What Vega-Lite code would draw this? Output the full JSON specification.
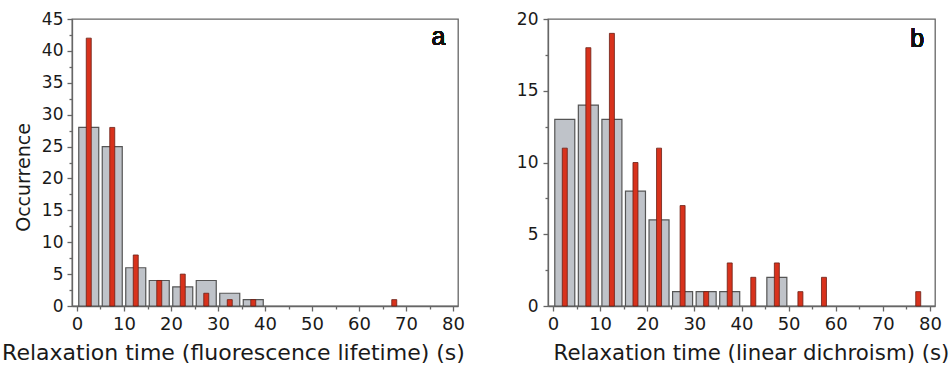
{
  "$schema": "https://vega.github.io/schema/vega-lite/v6.json",
  "background": "white",
  "padding": {"left": 0, "top": 9, "right": 0, "bottom": 0},
  "config": {
    "font": "DejaVu Sans",
    "view": {"stroke": "#666", "strokeWidth": 1.3},
    "axis": {
      "domainColor": "#666", "domainWidth": 1.3, "tickColor": "#666", "tickWidth": 1.3,
      "labelColor": "#1a1a1a", "titleColor": "#1a1a1a", "grid": false,
      "titleFontWeight": "normal", "labelFont": "DejaVu Sans", "titleFont": "DejaVu Sans"
    },
    "concat": {"spacing": 49}
  },
  "datasets": {
    "a": [
      {"mid": 2.5, "count": 28, "type": "gray"},
      {"mid": 7.5, "count": 25, "type": "gray"},
      {"mid": 12.5, "count": 6, "type": "gray"},
      {"mid": 17.5, "count": 4, "type": "gray"},
      {"mid": 22.5, "count": 3, "type": "gray"},
      {"mid": 27.5, "count": 4, "type": "gray"},
      {"mid": 32.5, "count": 2, "type": "gray"},
      {"mid": 37.5, "count": 1, "type": "gray"},
      {"mid": 2.5, "count": 42, "type": "red"},
      {"mid": 7.5, "count": 28, "type": "red"},
      {"mid": 12.5, "count": 8, "type": "red"},
      {"mid": 17.5, "count": 4, "type": "red"},
      {"mid": 22.5, "count": 5, "type": "red"},
      {"mid": 27.5, "count": 2, "type": "red"},
      {"mid": 32.5, "count": 1, "type": "red"},
      {"mid": 37.5, "count": 1, "type": "red"},
      {"mid": 67.5, "count": 1, "type": "red"}
    ],
    "b": [
      {"mid": 2.5, "count": 13, "type": "gray"},
      {"mid": 7.5, "count": 14, "type": "gray"},
      {"mid": 12.5, "count": 13, "type": "gray"},
      {"mid": 17.5, "count": 8, "type": "gray"},
      {"mid": 22.5, "count": 6, "type": "gray"},
      {"mid": 27.5, "count": 1, "type": "gray"},
      {"mid": 32.5, "count": 1, "type": "gray"},
      {"mid": 37.5, "count": 1, "type": "gray"},
      {"mid": 47.5, "count": 2, "type": "gray"},
      {"mid": 2.5, "count": 11, "type": "red"},
      {"mid": 7.5, "count": 18, "type": "red"},
      {"mid": 12.5, "count": 19, "type": "red"},
      {"mid": 17.5, "count": 10, "type": "red"},
      {"mid": 22.5, "count": 11, "type": "red"},
      {"mid": 27.5, "count": 7, "type": "red"},
      {"mid": 32.5, "count": 1, "type": "red"},
      {"mid": 37.5, "count": 3, "type": "red"},
      {"mid": 42.5, "count": 2, "type": "red"},
      {"mid": 47.5, "count": 3, "type": "red"},
      {"mid": 52.5, "count": 1, "type": "red"},
      {"mid": 57.5, "count": 2, "type": "red"},
      {"mid": 77.5, "count": 1, "type": "red"}
    ]
  },
  "hconcat": [
    {
      "width": 386, "height": 287,
      "data": {"name": "a"},
      "encoding": {
        "x": {"field": "mid", "type": "quantitative", "scale": {"domain": [0, 80], "nice": false},
          "axis": {"values": [0,5,10,15,20,25,30,35,40,45,50,55,60,65,70,75,80],
            "labelExpr": "datum.value % 10 === 0 ? datum.label : ''",
            "tickSize": {"condition": {"test": "datum.value % 10 === 0", "value": 5}, "value": 3},
            "labelFontSize": 18, "labelPadding": 4, "labelFlush": false,
            "title": "Relaxation time (fluorescence lifetime) (s)", "titleFontSize": 22, "titlePadding": 9,
            "titleX": 161, "titleAlign": "center"}},
        "y": {"field": "count", "type": "quantitative", "scale": {"domain": [0, 45], "nice": false},
          "axis": {"values": [0,2.5,5,7.5,10,12.5,15,17.5,20,22.5,25,27.5,30,32.5,35,37.5,40,42.5,45],
            "labelExpr": "datum.value % 5 === 0 ? datum.label : ''",
            "tickSize": {"condition": {"test": "datum.value % 5 === 0", "value": 5}, "value": 3},
            "labelFontSize": 17, "labelPadding": 4,
            "title": "Occurrence", "titleFontSize": 19, "titlePadding": 8, "titleY": 158, "titleAlign": "center"}}
      },
      "layer": [
        {"transform": [{"filter": "datum.type === 'gray'"}],
          "mark": {"type": "bar", "size": 20, "fill": "#bfc3c9", "stroke": "#555", "strokeWidth": 1.2}},
        {"transform": [{"filter": "datum.type === 'red'"}],
          "mark": {"type": "bar", "size": 5, "fill": "#d8321c", "stroke": "#6a2015", "strokeWidth": 0.8}},
        {"mark": {"type": "text", "text": "a", "fontSize": 25, "align": "center", "baseline": "middle", "color": "#111", "font": "Liberation Sans"},
          "encoding": {"x": {"datum": 76.9}, "y": {"datum": 42.2}}}
      ]
    },
    {
      "width": 387, "height": 287,
      "data": {"name": "b"},
      "encoding": {
        "x": {"field": "mid", "type": "quantitative", "scale": {"domain": [0, 80], "nice": false},
          "axis": {"values": [0,5,10,15,20,25,30,35,40,45,50,55,60,65,70,75,80],
            "labelExpr": "datum.value % 10 === 0 ? datum.label : ''",
            "tickSize": {"condition": {"test": "datum.value % 10 === 0", "value": 5}, "value": 3},
            "labelFontSize": 18, "labelPadding": 4, "labelFlush": false,
            "title": "Relaxation time (linear dichroism) (s)", "titleFontSize": 21.3, "titlePadding": 9,
            "titleX": 203, "titleAlign": "center"}},
        "y": {"field": "count", "type": "quantitative", "scale": {"domain": [0, 20], "nice": false},
          "axis": {"values": [0,2.5,5,7.5,10,12.5,15,17.5,20],
            "labelExpr": "datum.value % 5 === 0 ? datum.label : ''",
            "tickSize": {"condition": {"test": "datum.value % 5 === 0", "value": 5}, "value": 3},
            "labelFontSize": 17, "labelPadding": 5, "title": null}}
      },
      "layer": [
        {"transform": [{"filter": "datum.type === 'gray'"}],
          "mark": {"type": "bar", "size": 20, "fill": "#bfc3c9", "stroke": "#555", "strokeWidth": 1.2}},
        {"transform": [{"filter": "datum.type === 'red'"}],
          "mark": {"type": "bar", "size": 5, "fill": "#d8321c", "stroke": "#6a2015", "strokeWidth": 0.8}},
        {"mark": {"type": "text", "text": "b", "fontSize": 25, "align": "center", "baseline": "middle", "color": "#111", "font": "Liberation Sans"},
          "encoding": {"x": {"datum": 77.3}, "y": {"datum": 18.6}}}
      ]
    }
  ]
}
